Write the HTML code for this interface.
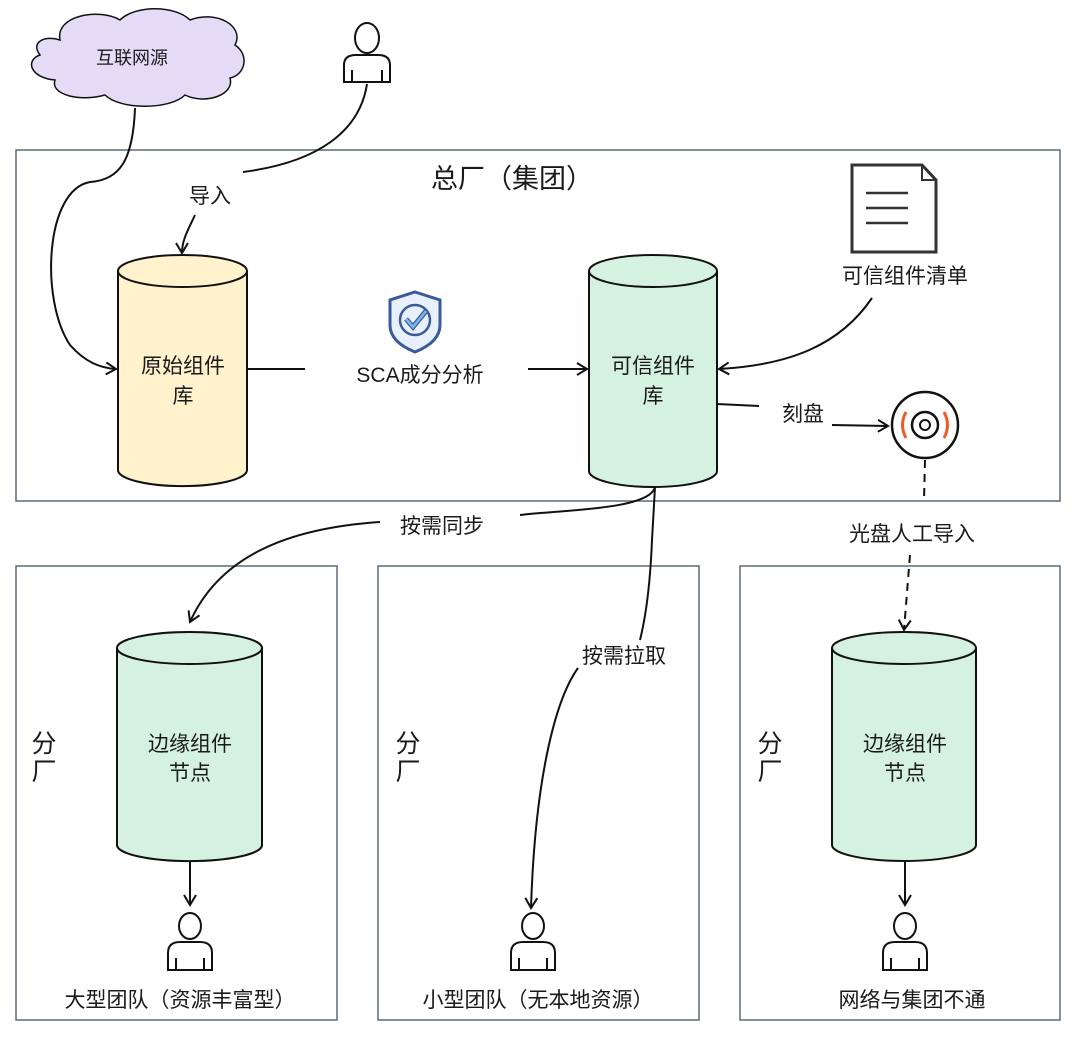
<!DOCTYPE html>
<html><head><meta charset="utf-8"><style>
html,body{margin:0;padding:0;background:#fff;}
svg text{font-family:"Liberation Sans","Noto Sans CJK SC",sans-serif;fill:#1a1a1a;}
</style></head><body>
<svg width="1080" height="1042" viewBox="0 0 1080 1042" xmlns="http://www.w3.org/2000/svg">
<defs>
<marker id="a" markerWidth="14" markerHeight="14" refX="11" refY="7" orient="auto" markerUnits="userSpaceOnUse">
<path d="M1,1 L11,7 L1,13" fill="none" stroke="#111" stroke-width="2"/>
</marker>
</defs>
<g fill="none" stroke="#111" stroke-width="2">
<path d="M60,40 C55,15 100,8 120,20 C135,5 175,5 190,20 C215,10 245,25 235,45 C250,55 245,75 230,78 C235,95 205,105 185,95 C170,110 120,110 105,95 C80,102 50,95 55,80 C30,78 25,60 40,55 C30,42 45,35 60,40 Z" fill="#e4dcf7" stroke-width="1.5"/>
<ellipse cx="367" cy="38" rx="12" ry="15" fill="#fff"/>
<path d="M344,82 L344,65 Q344,55 356,55 L378,55 Q390,55 390,65 L390,82 Z M352,82 L352,70 M382,82 L382,70" fill="#fff"/>
<rect x="16" y="150" width="1044" height="351" stroke="#5a6b7b" stroke-width="1.5"/>
<rect x="16" y="566" width="321" height="454" stroke="#5a6b7b" stroke-width="1.5"/>
<rect x="378" y="566" width="321" height="454" stroke="#5a6b7b" stroke-width="1.5"/>
<rect x="740" y="566" width="320" height="454" stroke="#5a6b7b" stroke-width="1.5"/>
<path d="M118,271 L118,470 A64,16 0 0 0 247,470 L247,271" fill="#fff2cc"/>
<ellipse cx="182.5" cy="271" rx="64.5" ry="16" fill="#fff2cc"/>
<path d="M589,271 L589,471 A64,16 0 0 0 717,471 L717,271" fill="#d5f2e0"/>
<ellipse cx="653" cy="271" rx="64" ry="16" fill="#d5f2e0"/>
<path d="M117,648 L117,845 A72,16 0 0 0 262,845 L262,648" fill="#d5f2e0"/>
<ellipse cx="189.5" cy="648" rx="72.5" ry="16" fill="#d5f2e0"/>
<path d="M832,648 L832,845 A72,16 0 0 0 976,845 L976,648" fill="#d5f2e0"/>
<ellipse cx="904" cy="648" rx="72" ry="16" fill="#d5f2e0"/>
<path d="M852,165 L922,165 L936,180 L936,252 L852,252 Z" stroke="#333" stroke-width="3" fill="#fff"/>
<path d="M922,165 L922,180 L936,180" stroke="#333" stroke-width="2"/>
<path d="M866,193 L908,193 M866,208 L908,208 M866,223 L908,223" stroke="#333" stroke-width="2.5"/>
<circle cx="925" cy="425" r="33" fill="#fff" stroke-width="2.5"/>
<circle cx="925" cy="425" r="13" stroke-width="2.5"/>
<circle cx="925" cy="425" r="5" stroke-width="2"/>
<path d="M906,412 Q899,425 906,438 M944,412 Q951,425 944,438" stroke="#f05a28" stroke-width="3"/>
<path d="M415,292 L440,300 L440,325 Q440,342 415,352 Q390,342 390,325 L390,300 Z" fill="#e8f1fb" stroke="#3a5a9a" stroke-width="3"/>
<circle cx="415" cy="320" r="15" stroke="#3a5a9a" stroke-width="2.5"/>
<path d="M406,319 L413,327 L426,311" stroke="#3a5a9a" stroke-width="5"/>
<path d="M406,319 L413,327 L426,311" stroke="#7fb8ec" stroke-width="2.5"/>
<g fill="#fff">
<ellipse cx="190" cy="926" rx="11" ry="13"/><path d="M168,970 L168,953 Q168,942 180,942 L200,942 Q212,942 212,953 L212,970 Z M176,970 L176,958 M204,970 L204,958"/>
<ellipse cx="533" cy="926" rx="11" ry="13"/><path d="M511,970 L511,953 Q511,942 523,942 L543,942 Q555,942 555,953 L555,970 Z M519,970 L519,958 M547,970 L547,958"/>
<ellipse cx="905" cy="926" rx="11" ry="13"/><path d="M883,970 L883,953 Q883,942 895,942 L915,942 Q927,942 927,953 L927,970 Z M891,970 L891,958 M919,970 L919,958"/>
</g>
<path d="M135,108 C133,160 120,180 90,182 C45,190 40,300 70,345 C85,362 100,368 116,369" marker-end="url(#a)"/>
<path d="M367,84 C360,130 320,162 243,172"/>
<path d="M195,215 C188,230 182,240 182,253" marker-end="url(#a)"/>
<path d="M247,369 L305,369"/>
<path d="M528,369 L587,369" marker-end="url(#a)"/>
<path d="M872,298 C840,345 790,365 719,369" marker-end="url(#a)"/>
<path d="M717,404 L759,406"/>
<path d="M832,425 L888,426" marker-end="url(#a)"/>
<path d="M925,460 L924,500" stroke-dasharray="8,6"/>
<path d="M910,555 L904,630" stroke-dasharray="8,6" marker-end="url(#a)"/>
<path d="M655,487 C650,510 560,510 520,515"/>
<path d="M380,522 C290,528 220,555 190,622" marker-end="url(#a)"/>
<path d="M655,487 L652,540 C650,590 645,620 640,640"/>
<path d="M578,668 C555,700 535,780 531,908" marker-end="url(#a)"/>
<path d="M190,862 L190,905" marker-end="url(#a)"/>
<path d="M905,862 L905,905" marker-end="url(#a)"/>
</g>
<g font-size="21" text-anchor="middle">
<text x="132" y="64" font-size="18" font-family="Liberation Serif,Noto Serif CJK SC,serif">互联网源</text>
<text x="512" y="188" font-size="27">总厂（集团）</text>
<text x="210" y="203">导入</text>
<text x="183" y="373">原始组件</text><text x="183" y="403">库</text>
<text x="653" y="373">可信组件</text><text x="653" y="403">库</text>
<text x="420" y="382">SCA成分分析</text>
<text x="905" y="283">可信组件清单</text>
<text x="803" y="421">刻盘</text>
<text x="912" y="541">光盘人工导入</text>
<text x="442" y="533">按需同步</text>
<text x="624" y="663">按需拉取</text>
<text x="190" y="751">边缘组件</text><text x="190" y="780">节点</text>
<text x="905" y="751">边缘组件</text><text x="905" y="780">节点</text>
<text x="44" y="752" font-size="25">分</text><text x="44" y="780" font-size="25">厂</text>
<text x="408" y="752" font-size="25">分</text><text x="408" y="780" font-size="25">厂</text>
<text x="770" y="752" font-size="25">分</text><text x="770" y="780" font-size="25">厂</text>
<text x="180" y="1007">大型团队（资源丰富型）</text>
<text x="538" y="1007">小型团队（无本地资源）</text>
<text x="912" y="1007">网络与集团不通</text>
</g>
</svg>
</body></html>
